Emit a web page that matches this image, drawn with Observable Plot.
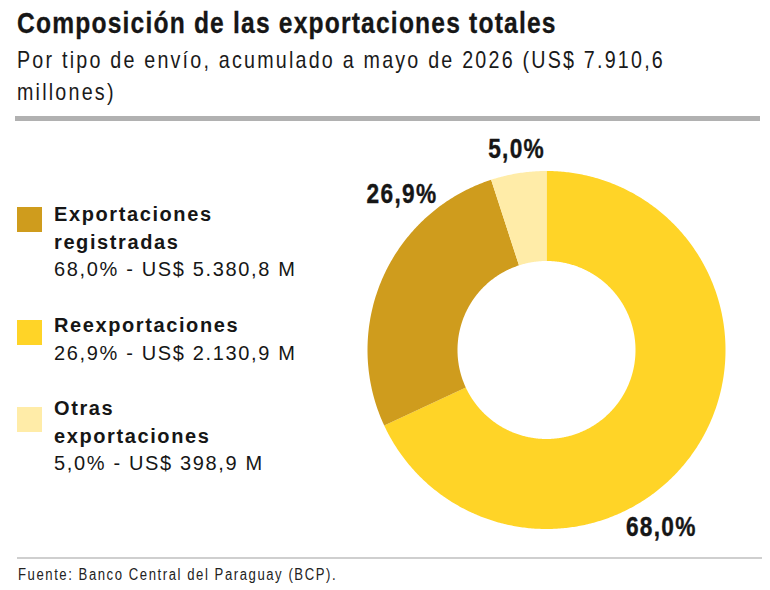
<!DOCTYPE html>
<html lang="es">
<head>
<meta charset="utf-8">
<script src="https://cdn.jsdelivr.net/npm/d3@7"></script>
<script src="https://cdn.jsdelivr.net/npm/@observablehq/plot@0.6"></script>
<style>
  html, body { margin: 0; padding: 0; background: #fff; }
  #chart { position: relative; width: 770px; height: 590px; overflow: hidden; color: #161616; }
  .sans { font-family: "Liberation Sans", Arial, sans-serif; }
  /* condensed look: horizontally compressed grotesque */
  .narrow { font-family: "Liberation Sans", Arial, sans-serif; transform: scaleX(0.82); transform-origin: 0 0; }
  #title { position: absolute; left: 17px; top: 8px; font-size: 30px; line-height: 30px; font-weight: bold; letter-spacing: 1.45px; white-space: nowrap; -webkit-text-stroke: 0.3px #161616; }
  #subtitle { position: absolute; left: 17px; top: 44px; font-size: 24px; line-height: 32px; letter-spacing: 2.7px; color: #1a1a1a; white-space: nowrap; }
  #rule-top { position: absolute; left: 15px; top: 116px; width: 745px; height: 5px; background: #b1b1b1; }
  #legend { position: absolute; left: 17px; top: 201px; }
  .item { display: flex; align-items: flex-start; margin-bottom: 27.7px; }
  .swatch { width: 25px; height: 25px; margin-top: 6px; margin-right: 12px; flex: none; }
  .item:nth-child(2) .swatch { margin-top: 8px; }
  .item:last-child .swatch { margin-top: 12px; }
  .name { font-size: 20px; line-height: 27.7px; font-weight: bold; letter-spacing: 1.6px; width: 205px; }
  .value { font-size: 20px; line-height: 27.7px; letter-spacing: 1.65px; white-space: nowrap; }
  #plot { position: absolute; left: 336px; top: 125px; }
  #rule-bottom { position: absolute; left: 17px; top: 557px; width: 745px; height: 2px; background: #cfcfcf; }
  #source { position: absolute; left: 18px; top: 567px; font-size: 16px; line-height: 16px; letter-spacing: 1.9px; color: #222; white-space: nowrap; }
</style>
</head>
<body>
<div id="chart">
  <div id="title" class="narrow">Composición de las exportaciones totales</div>
  <div id="subtitle" class="narrow"></div>
  <div id="rule-top"></div>
  <div id="legend" class="sans"></div>
  <div id="plot"></div>
  <div id="rule-bottom"></div>
  <div id="source" class="narrow">Fuente: Banco Central del Paraguay (BCP).</div>
</div>
<script>
// Export categories, share of the total (%) and amount (US$ millions), Jan–May 2026
const categories = ["Exportaciones registradas", "Reexportaciones", "Otras exportaciones"];
const shares = [68.0, 26.9, 5.0];
const amounts = [5380.8, 2130.9, 398.9];

// Palettes: ring slices and legend swatches
const sliceColors = ["#FFD427", "#CF9C1D", "#FFECA8"];
const swatchColors = ["#CF9C1D", "#FFD427", "#FFECA8"];

// Label placement: fraction along each slice's arc and distance from the centre (px)
const labelSpot = [
  {along: 0.6, radius: 211},
  {along: 0.745, radius: 213},
  {along: 0.53, radius: 203}
];

const rows = categories.map((category, i) => ({category, share: shares[i], amount: amounts[i], i}));

const es = d3.formatLocale({decimal: ",", thousands: ".", grouping: [3], currency: ["US$ ", ""]});
const pct = es.format(".1f");
const money = es.format(",.1f");

// Subtitle with the accumulated total
const total = d3.sum(amounts);
document.getElementById("subtitle").innerHTML =
  `Por tipo de envío, acumulado a mayo de 2026 (US$ ${money(total)}<br>millones)`;

// Legend
const legend = d3.select("#legend");
rows.forEach(d => {
  const item = legend.append("div").attr("class", "item");
  item.append("div").attr("class", "swatch").style("background", swatchColors[d.i]);
  const text = item.append("div");
  text.append("div").attr("class", "name").text(d.category);
  text.append("div").attr("class", "value").text(`${pct(d.share)}% - US$ ${money(d.amount)} M`);
});

// Donut geometry (pixel units, centre at 0,0)
const outerR = 179;
const innerR = 89;
const arcs = d3.pie().sort(null).value(d => d.share)(rows);

const ring = [];
for (const a of arcs) {
  const steps = Math.max(2, Math.ceil((a.endAngle - a.startAngle) / (Math.PI / 360)));
  for (let k = 0; k <= steps; ++k) {
    const t = a.startAngle + (a.endAngle - a.startAngle) * k / steps;
    ring.push({category: a.data.category, x: outerR * Math.sin(t), y: outerR * Math.cos(t)});
  }
  for (let k = steps; k >= 0; --k) {
    const t = a.startAngle + (a.endAngle - a.startAngle) * k / steps;
    ring.push({category: a.data.category, x: innerR * Math.sin(t), y: innerR * Math.cos(t)});
  }
}

const labels = arcs.map(a => {
  const spot = labelSpot[a.data.i];
  const t = a.startAngle + (a.endAngle - a.startAngle) * spot.along;
  return {text: `${pct(a.data.share)}%`, x: spot.radius * Math.sin(t), y: spot.radius * Math.cos(t)};
});

const W = 420, H = 430;
const chart = Plot.plot({
  width: W,
  height: H,
  margin: 0,
  x: {domain: [-210, 210], axis: null},
  y: {domain: [224.5 - H, 224.5], axis: null},
  color: {domain: categories, range: sliceColors},
  style: {
    fontFamily: '"Liberation Sans", Arial, sans-serif',
    letterSpacing: "1.6px",
    overflow: "visible",
    background: "transparent"
  },
  marks: [
    Plot.line(ring, {x: "x", y: "y", z: "category", fill: "category", stroke: "none"}),
    Plot.text(labels, {x: "x", y: "y", text: "text", fontSize: 28, fontWeight: "bold", fill: "#161616", stroke: "#161616", strokeWidth: 0.4})
  ]
});
document.getElementById("plot").append(chart);

// Condense the value labels' glyphs around their anchor
d3.select(chart).selectAll("text").each(function () {
  const w = this.getComputedTextLength();
  this.setAttribute("textLength", (w * 0.81).toFixed(1));
  this.setAttribute("lengthAdjust", "spacingAndGlyphs");
});
</script>
</body>
</html>
